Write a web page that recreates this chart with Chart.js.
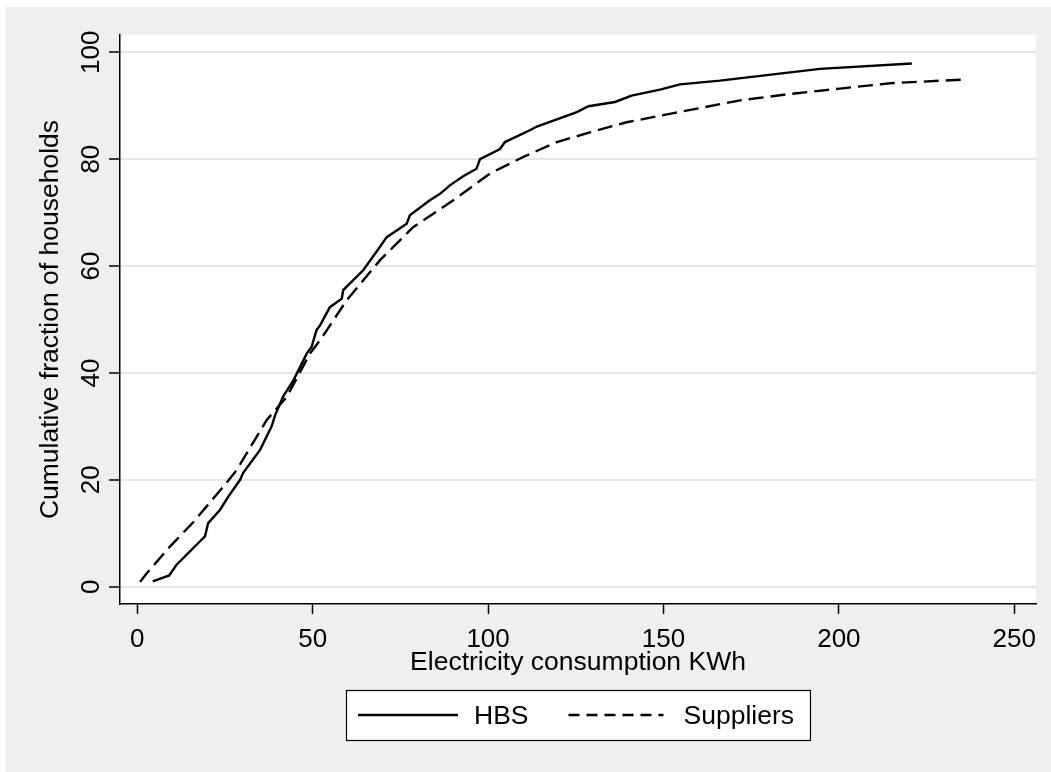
<!DOCTYPE html>
<html lang="en">
<head>
    <meta charset="UTF-8">
    <title>Cumulative distribution of electricity consumption</title>
    <script src="https://cdn.jsdelivr.net/npm/chart.js"></script>
    <style>
        html, body { margin: 0; padding: 0; background: #efefef; overflow: hidden; }
        #wrap { width: 1051px; height: 772px; }
        canvas { display: block; }
    </style>
</head>
<body>
    <div id="wrap">
        <canvas id="cdfChart" width="1051" height="772"></canvas>
    </div>
    <script>
        // values
        const hbsX = [4.4, 9.1, 11.2, 15.0, 17.9, 19.3, 20.2, 23.6, 26.0, 29.3, 30.2, 35.0, 38.3, 39.3, 41.6,
                      44.5, 48.3, 49.7, 51.1, 52.1, 54.9, 58.3, 58.7, 64.4, 69.2, 71.1, 76.8, 77.7, 83.4, 86.3,
                      89.1, 92.9, 96.7, 97.7, 103.4, 104.8, 111.9, 113.9, 125.3, 128.6, 136.2, 140.9, 149.0,
                      154.7, 166.1, 194.6, 220.8];
        const hbsY = [1.0, 2.1, 4.1, 6.6, 8.5, 9.4, 11.9, 14.4, 16.9, 20.0, 21.3, 25.6, 30.0, 32.1, 35.6,
                      38.6, 43.6, 44.9, 48.0, 48.9, 52.3, 53.9, 55.5, 59.2, 63.6, 65.4, 67.9, 69.5, 72.3, 73.5,
                      75.1, 76.8, 78.2, 80.0, 81.9, 83.2, 85.4, 86.1, 88.8, 89.9, 90.7, 91.9, 93.0,
                      94.0, 94.7, 96.9, 97.9];
        const supX = [0.8, 2.7, 9.3, 16.0, 24.5, 28.3, 36.9, 42.6, 49.2, 52.1, 59.7, 69.2, 78.7, 90.1,
                      100.5, 110.0, 119.6, 129.0, 139.5, 152.8, 171.8, 186.1, 200.3, 214.6, 235.9];
        const supY = [0.9, 2.5, 7.5, 12.1, 18.7, 21.8, 31.2, 35.5, 43.6, 46.1, 53.6, 61.1, 67.3, 72.3,
                      77.3, 80.4, 83.2, 85.0, 86.9, 88.6, 91.0, 92.2, 93.2, 94.2, 94.9];
        const seriesNames = ['HBS', 'Suppliers'];
        const xTicks = [0, 50, 100, 150, 200, 250];
        const yTicks = [0, 20, 40, 60, 80, 100];

        const pts = (xs, ys) => xs.map((x, i) => ({ x: x, y: ys[i] }));

        Chart.defaults.font.family = '"Liberation Sans", Arial, sans-serif';
        Chart.defaults.color = '#000';

        // grey graph region with white plot area (Stata look)
        const background = {
            id: 'background',
            beforeDraw(chart) {
                const { ctx, width, height, chartArea } = chart;
                ctx.save();
                ctx.fillStyle = '#fff';
                ctx.fillRect(0, 0, width, height);
                ctx.fillStyle = '#efefef';
                ctx.fillRect(6, 7, width - 6, height - 7);
                ctx.fillStyle = '#fff';
                ctx.fillRect(chartArea.left, chartArea.top,
                    chartArea.right - chartArea.left, chartArea.bottom - chartArea.top);
                ctx.restore();
            }
        };

        // boxed legend under the x title
        const legendBox = {
            id: 'legendBox',
            afterDraw(chart) {
                const { ctx, chartArea } = chart;
                const ds = chart.data.datasets;
                const sampleW = [100, 95], gapText = [16, 20];
                const padL = 12, padR = 16, gapItem = 40;
                ctx.save();
                ctx.font = '26.5px "Liberation Sans", Arial, sans-serif';
                let total = padL + padR;
                ds.forEach((d, i) => {
                    total += sampleW[i] + gapText[i] + ctx.measureText(d.label).width;
                    if (i) total += gapItem;
                });
                const cx = (chartArea.left + chartArea.right) / 2;
                const x0 = Math.round(cx - total / 2), top = 690, h = 50, cy = top + h / 2;
                ctx.fillStyle = '#fff';
                ctx.fillRect(x0, top, total, h);
                ctx.strokeStyle = '#000';
                ctx.lineWidth = 1.2;
                ctx.strokeRect(x0 + 0.5, top + 0.5, total, h);
                let x = x0 + padL;
                ds.forEach((d, i) => {
                    if (i) x += gapItem;
                    ctx.beginPath();
                    ctx.setLineDash(i ? [11, 7] : []);
                    ctx.lineWidth = d.borderWidth;
                    ctx.strokeStyle = d.borderColor;
                    ctx.moveTo(x, cy);
                    ctx.lineTo(x + sampleW[i], cy);
                    ctx.stroke();
                    ctx.setLineDash([]);
                    x += sampleW[i] + gapText[i];
                    ctx.fillStyle = '#000';
                    ctx.textBaseline = 'middle';
                    ctx.fillText(d.label, x, cy + 2);
                    x += ctx.measureText(d.label).width;
                });
                ctx.restore();
            }
        };

        new Chart(document.getElementById('cdfChart'), {
            type: 'line',
            data: {
                datasets: [{
                    label: seriesNames[0],
                    data: pts(hbsX, hbsY),
                    borderColor: '#000',
                    borderWidth: 2.4,
                    pointRadius: 0,
                    tension: 0,
                    fill: false
                }, {
                    label: seriesNames[1],
                    data: pts(supX, supY),
                    borderColor: '#000',
                    borderWidth: 2.4,
                    borderDash: [15, 7],
                    pointRadius: 0,
                    tension: 0,
                    fill: false
                }]
            },
            options: {
                responsive: false,
                animation: false,
                devicePixelRatio: 1,
                layout: { padding: { left: 6, top: 35, right: 15, bottom: 0 } },
                plugins: {
                    legend: { display: false },
                    tooltip: { enabled: false }
                },
                scales: {
                    x: {
                        type: 'linear',
                        position: 'bottom',
                        min: -4.93,
                        max: 256.2,
                        afterBuildTicks: s => { s.ticks = xTicks.map(v => ({ value: v })); },
                        afterFit: s => { s.height = 168; },
                        ticks: {
                            font: { size: 26 },
                            padding: 10,
                            maxRotation: 0,
                            autoSkip: false
                        },
                        grid: {
                            drawOnChartArea: false,
                            tickLength: 10,
                            tickColor: '#000',
                            tickWidth: 1.5
                        },
                        border: { color: '#000', width: 1.5 },
                        title: {
                            display: true,
                            text: 'Electricity consumption KWh',
                            font: { size: 26.5, lineHeight: 1 },
                            padding: { top: 0, bottom: 96 }
                        }
                    },
                    y: {
                        type: 'linear',
                        min: -3.24,
                        max: 103.23,
                        afterBuildTicks: s => { s.ticks = yTicks.map(v => ({ value: v })); },
                        afterFit: s => { s.width = 114; },
                        ticks: {
                            font: { size: 26 },
                            minRotation: 90,
                            maxRotation: 90,
                            crossAlign: 'center',
                            padding: -5
                        },
                        grid: {
                            color: '#e6e6e6',
                            lineWidth: 2,
                            tickLength: 11,
                            tickColor: '#000',
                            tickWidth: 1.5
                        },
                        border: { color: '#000', width: 1.5 },
                        title: {
                            display: true,
                            text: 'Cumulative fraction of households',
                            font: { size: 26.5, lineHeight: 1 },
                            padding: { top: 31, bottom: 0 }
                        }
                    }
                }
            },
            plugins: [background, legendBox]
        });
    </script>
</body>
</html>
